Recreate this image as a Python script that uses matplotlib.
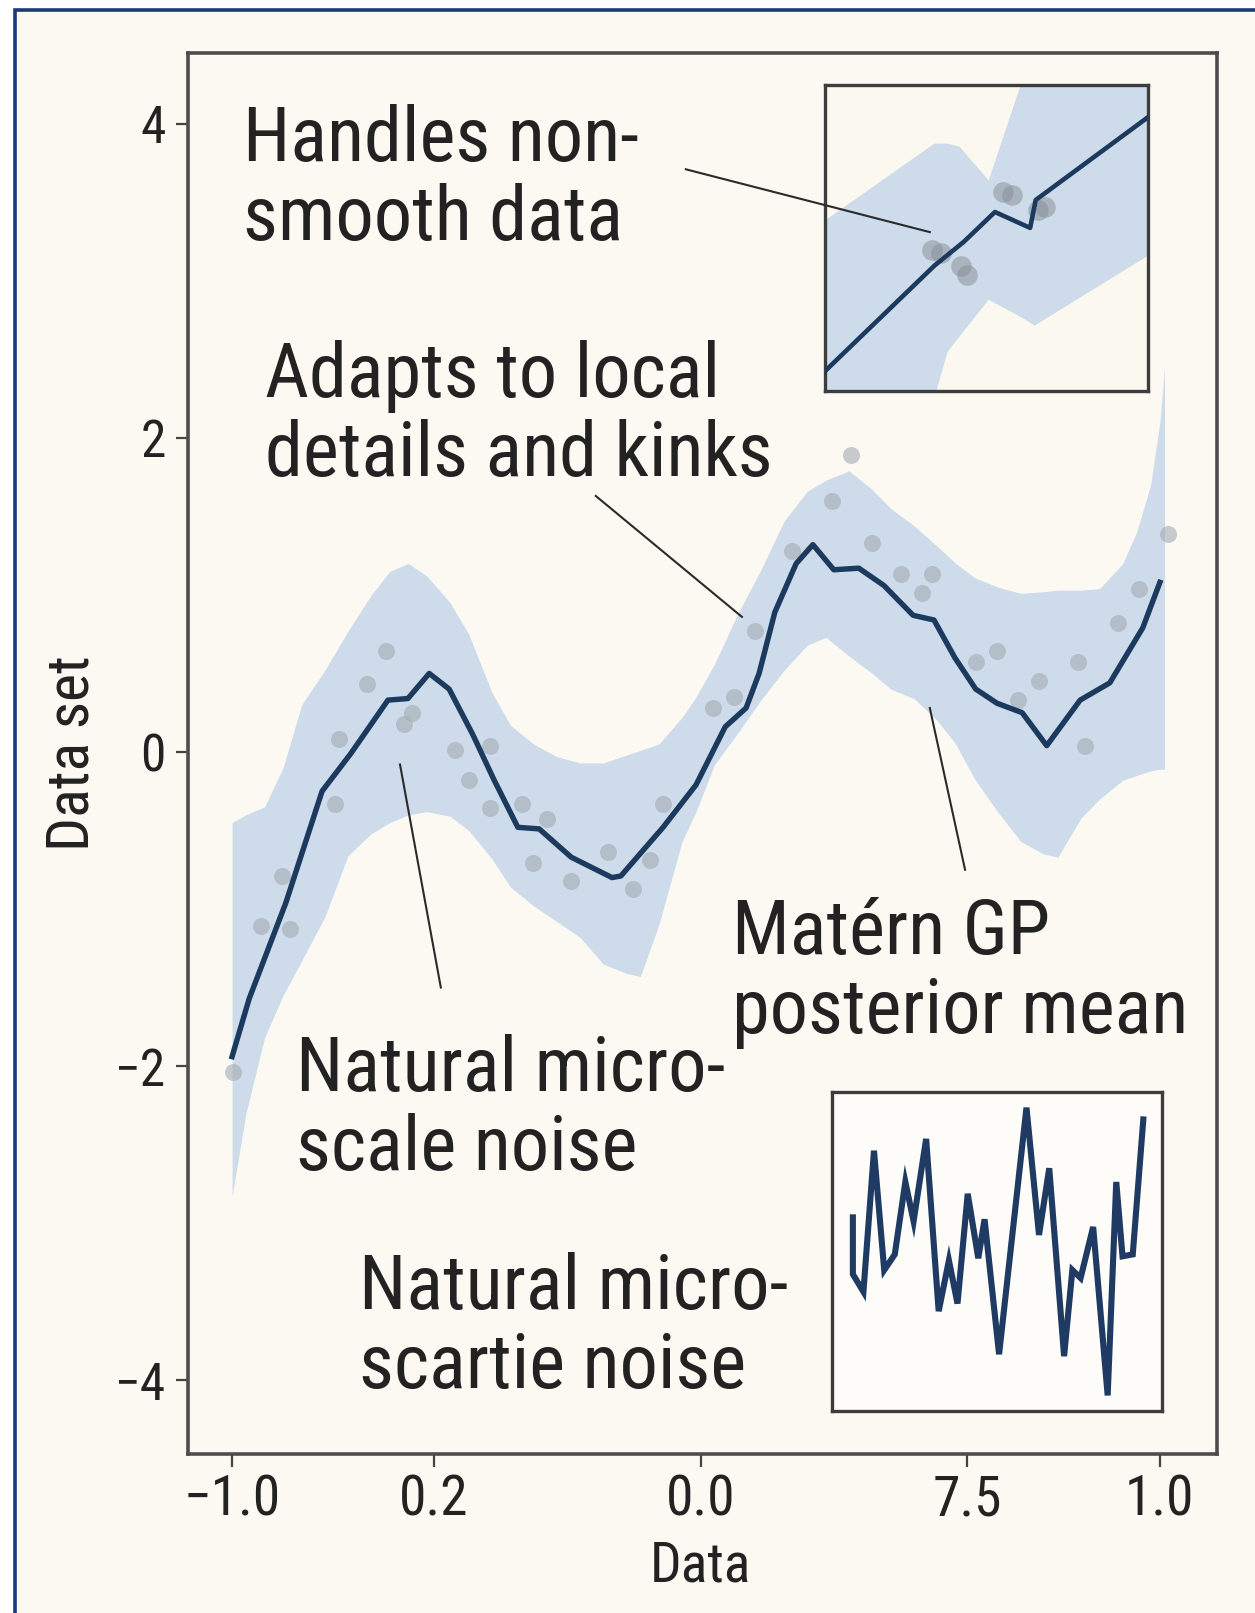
import matplotlib
matplotlib.use("Agg")
import matplotlib.pyplot as plt
from matplotlib import font_manager
from matplotlib.patches import Rectangle
from matplotlib.lines import Line2D

# main curve (posterior mean)
mean_x = [-1.0, -0.963, -0.884, -0.806, -0.744, -0.664, -0.621, -0.575, -0.532, -0.481,
          -0.435, -0.384, -0.338, -0.269, -0.181, -0.162, -0.071, 0.0, 0.063, 0.108,
          0.136, 0.170, 0.216, 0.252, 0.297, 0.351, 0.405, 0.468, 0.513, 0.558,
          0.603, 0.649, 0.703, 0.756, 0.828, 0.892, 0.963, 1.0]
mean_y = [-1.94, -1.57, -0.96, -0.25, -0.01, 0.33, 0.34, 0.50, 0.40, 0.11,
          -0.18, -0.48, -0.49, -0.67, -0.80, -0.79, -0.48, -0.21, 0.16, 0.28,
          0.50, 0.89, 1.20, 1.32, 1.16, 1.17, 1.06, 0.87, 0.84, 0.60,
          0.40, 0.31, 0.25, 0.04, 0.33, 0.44, 0.79, 1.08]

# credible band
band_x = [-1.0, -0.97, -0.93, -0.89, -0.85, -0.80, -0.75, -0.70, -0.66, -0.62,
          -0.58, -0.53, -0.49, -0.44, -0.40, -0.35, -0.30, -0.25, -0.20, -0.15,
          -0.12, -0.08, -0.03, 0.0, 0.04, 0.09, 0.14, 0.19, 0.24, 0.28,
          0.33, 0.38, 0.42, 0.47, 0.52, 0.56, 0.60, 0.65, 0.70, 0.75,
          0.78, 0.83, 0.87, 0.92, 0.95, 0.98, 1.0, 1.01]
band_hi = [-0.45, -0.40, -0.35, -0.10, 0.30, 0.52, 0.77, 1.00, 1.15, 1.20,
           1.12, 0.95, 0.75, 0.38, 0.17, 0.05, -0.03, -0.07, -0.07, -0.02,
           0.01, 0.05, 0.22, 0.35, 0.56, 0.88, 1.16, 1.47, 1.66, 1.73,
           1.79, 1.67, 1.55, 1.44, 1.31, 1.20, 1.11, 1.05, 1.01, 1.02,
           1.03, 1.03, 1.04, 1.20, 1.40, 1.70, 2.10, 2.45]
band_lo = [-2.83, -2.30, -1.82, -1.55, -1.33, -1.05, -0.66, -0.52, -0.45, -0.40,
           -0.38, -0.41, -0.50, -0.68, -0.86, -0.98, -1.08, -1.18, -1.35, -1.41,
           -1.43, -1.10, -0.57, -0.38, -0.08, 0.12, 0.33, 0.52, 0.68, 0.73,
           0.61, 0.50, 0.40, 0.34, 0.20, 0.05, -0.17, -0.38, -0.57, -0.65,
           -0.67, -0.42, -0.30, -0.18, -0.15, -0.12, -0.11, -0.11]

# observations
obs_x = [-0.998, -0.937, -0.875, -0.892, -0.778, -0.769, -0.709, -0.668, -0.629, -0.612,
         -0.519, -0.489, -0.444, -0.444, -0.375, -0.351, -0.321, -0.269, -0.190, -0.136,
         -0.099, -0.071, 0.037, 0.082, 0.127, 0.207, 0.293, 0.334, 0.379, 0.442,
         0.487, 0.509, 0.603, 0.649, 0.694, 0.739, 0.823, 0.838, 0.909, 0.955, 1.017]
obs_y = [-2.04, -1.11, -1.13, -0.79, -0.33, 0.08, 0.43, 0.64, 0.18, 0.25,
         0.01, -0.18, 0.04, -0.36, -0.33, -0.71, -0.43, -0.82, -0.64, -0.87,
         -0.69, -0.33, 0.28, 0.35, 0.77, 1.28, 1.60, 1.89, 1.33, 1.13,
         1.01, 1.13, 0.57, 0.64, 0.33, 0.45, 0.57, 0.04, 0.82, 1.04, 1.39]

xtick_pos = [-1.0, -0.565, 0.01, 0.584, 1.0]
xtick_labels = ["\u22121.0", "0.2", "0.0", "7.5", "1.0"]
ytick_pos = [-4, -2, 0, 2, 4]
ytick_labels = ["\u22124", "\u22122", "0", "2", "4"]

# zoom inset (non-smooth data)
kink_x = [0.0, 0.339, 0.429, 0.526, 0.635, 0.652, 1.0]
kink_y = [0.065, 0.41, 0.487, 0.585, 0.533, 0.624, 0.895]
kink_band_x = [0.0, 0.337, 0.378, 0.415, 0.505, 0.61, 0.647, 1.0]
kink_band_hi = [0.56, 0.81, 0.81, 0.80, 0.69, 1.02, 1.02, 1.02]
kink_band_lo = [-0.02, -0.02, 0.13, 0.18, 0.30, 0.24, 0.215, 0.445]
kink_obs_x = [0.33, 0.36, 0.42, 0.44, 0.55, 0.58, 0.66, 0.68]
kink_obs_y = [0.46, 0.45, 0.41, 0.38, 0.65, 0.64, 0.59, 0.60]

# noise inset
noise_x = [0.063, 0.063, 0.095, 0.127, 0.158, 0.190, 0.222, 0.247, 0.285, 0.323,
           0.354, 0.380, 0.411, 0.443, 0.462, 0.506, 0.589, 0.627, 0.658, 0.703,
           0.728, 0.753, 0.791, 0.835, 0.861, 0.880, 0.911, 0.943]
noise_y = [0.607, 0.429, 0.374, 0.816, 0.442, 0.491, 0.718, 0.595, 0.853, 0.313,
           0.472, 0.337, 0.681, 0.479, 0.601, 0.178, 0.951, 0.552, 0.761, 0.172,
           0.442, 0.417, 0.577, 0.049, 0.718, 0.485, 0.491, 0.914]

available = {f.name for f in font_manager.fontManager.ttflist}
if "Roboto Condensed" in available:
    family = "Roboto Condensed"
    k = 1.0
else:
    family = "Roboto"
    k = 0.88
plt.rcParams["font.family"] = [family, "DejaVu Sans"]

cream = "#fcf9f2"
navy = "#1c3a5e"
band_col = "#c8d8ea"
txt = "#222222"

fig = plt.figure(figsize=(12.55, 16.13), dpi=100, facecolor="white")
fig.patches.append(Rectangle((15 / 1255, -0.02), 1.0, 1.02 - 10 / 1613, transform=fig.transFigure,
                             facecolor=cream, edgecolor="#1a3a7c", linewidth=2.6, zorder=-5))

ax = fig.add_axes([0.1498, 0.0986, 0.8199, 0.8685])
ax.set_facecolor("none")
ax.fill_between(band_x, band_lo, band_hi, color=band_col, alpha=0.9, linewidth=0, zorder=1)
ax.scatter(obs_x, obs_y, s=150, color="#a4abb3", alpha=0.6, linewidths=0, zorder=2)
ax.plot(mean_x, mean_y, color=navy, linewidth=3.9, solid_joinstyle="round", zorder=3)

ax.set_xlim(-1.095, 1.123)
ax.set_ylim(-4.47, 4.45)
ax.set_xticks(xtick_pos)
ax.set_xticklabels(xtick_labels)
ax.set_yticks(ytick_pos)
ax.set_yticklabels(ytick_labels)
ax.tick_params(axis="x", labelsize=40 * k, length=9, width=1.6, color="#444444", pad=5, labelcolor=txt)
ax.tick_params(axis="y", labelsize=37 * k, length=9, width=1.6, color="#444444", pad=7, labelcolor=txt)
for s in ax.spines.values():
    s.set_color("#4d4d4d")
    s.set_linewidth(2.6)

ax.set_xlabel("Data", fontsize=40 * k, color=txt)
ax.set_ylabel("Data set", fontsize=43 * k, color=txt)
ax.xaxis.set_label_coords(0.4976, -0.061)
ax.yaxis.set_label_coords(-0.085, 0.5)

# annotations (y = baseline of the last line)
fs = 55 * k
ls = 1.1
ax.text(-0.976, 3.26, "Handles non-\nsmooth data", fontsize=fs, color=txt, va="baseline", linespacing=ls)
ax.text(-0.929, 1.76, "Adapts to local\ndetails and kinks", fontsize=fs, color=txt, va="baseline", linespacing=ls)
ax.text(0.078, -1.79, "Mat\u00e9rn GP\nposterior mean", fontsize=fs, color=txt, va="baseline", linespacing=ls)
ax.text(-0.862, -2.66, "Natural micro-\nscale noise", fontsize=fs, color=txt, va="baseline", linespacing=ls)
ax.text(-0.726, -4.05, "Natural micro-\nscartie noise", fontsize=fs, color=txt, va="baseline", linespacing=ls)

lead = dict(color="#2a2a2a", linewidth=1.5, zorder=4)
ax.plot([-0.216, 0.099], [1.63, 0.86], **lead)
ax.plot([-0.638, -0.550], [-0.08, -1.50], **lead)
ax.plot([0.504, 0.580], [0.28, -0.75], **lead)

# inset: non-smooth zoom
ax1 = fig.add_axes([0.6574, 0.7576, 0.2574, 0.1897])
ax1.set_facecolor("#fbf8f0")
ax1.fill_between(kink_band_x, kink_band_lo, kink_band_hi, color=band_col, alpha=0.9, linewidth=0)
ax1.scatter(kink_obs_x, kink_obs_y, s=220, color="#8a929b", alpha=0.55, linewidths=0, zorder=2)
ax1.plot(kink_x, kink_y, color=navy, linewidth=3.3, zorder=3)
ax1.set_xlim(0, 1)
ax1.set_ylim(0, 1)
ax1.set_xticks([])
ax1.set_yticks([])
for s in ax1.spines.values():
    s.set_color("#3d3d3d")
    s.set_linewidth(2.4)

# leader into the inset, drawn above it
fig.add_artist(Line2D([-0.022, 0.504], [3.71, 3.31], transform=ax.transData,
                      color="#2a2a2a", linewidth=1.5, zorder=5))

# inset: micro-scale noise
ax2 = fig.add_axes([0.663, 0.1252, 0.263, 0.1978])
ax2.set_facecolor("#fdfcf8")
ax2.plot(noise_x, noise_y, color="#1f3b63", linewidth=4.4, solid_joinstyle="miter")
ax2.set_xlim(0, 1)
ax2.set_ylim(0, 1)
ax2.set_xticks([])
ax2.set_yticks([])
for s in ax2.spines.values():
    s.set_color("#3d3d3d")
    s.set_linewidth(2.4)

fig.savefig("out.png", dpi=100, facecolor="white")
